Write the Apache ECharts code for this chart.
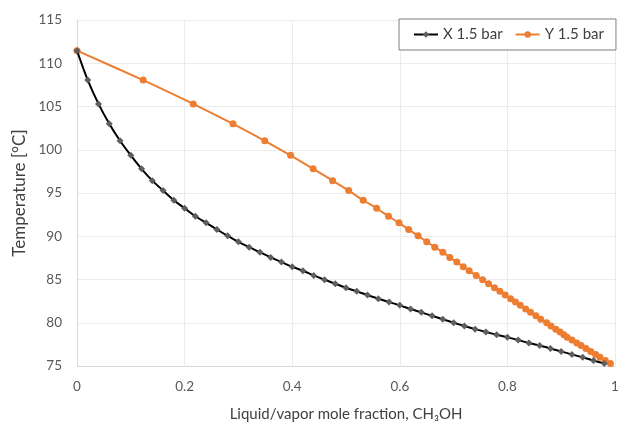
<!DOCTYPE html>
<html>
<head>
<meta charset="utf-8">
<script src="https://cdn.jsdelivr.net/npm/echarts@6/dist/echarts.min.js"></script>
<style>
html,body{margin:0;padding:0;background:#fff;}
#chart{width:627px;height:434px;}
</style>
</head>
<body>
<div id="chart"></div>
<script>
// Liquid mole fraction of CH3OH (X 1.5 bar)
const xLiquid = [0, 0.02, 0.04, 0.06, 0.08, 0.10, 0.12, 0.14, 0.16, 0.18,
  0.20, 0.22, 0.24, 0.26, 0.28, 0.30, 0.32, 0.34, 0.36, 0.38,
  0.40, 0.42, 0.44, 0.46, 0.48, 0.50, 0.52, 0.54, 0.56, 0.58,
  0.60, 0.62, 0.64, 0.66, 0.68, 0.70, 0.72, 0.74, 0.76, 0.78,
  0.80, 0.82, 0.84, 0.86, 0.88, 0.90, 0.92, 0.94, 0.96, 0.98];
// Temperature [°C] at each point (shared by liquid and vapour curves)
const temperature = [111.45, 108.05, 105.3, 103.0, 101.04, 99.35, 97.8, 96.43, 95.28, 94.16,
  93.24, 92.31, 91.55, 90.78, 90.05, 89.36, 88.74, 88.16, 87.55, 87.01,
  86.47, 86.01, 85.47, 84.97, 84.51, 84.05, 83.63, 83.2, 82.78, 82.4,
  82.01, 81.59, 81.2, 80.8, 80.4, 80.0, 79.62, 79.26, 78.93, 78.62,
  78.32, 78.0, 77.66, 77.36, 77.02, 76.67, 76.33, 76.02, 75.63, 75.29];
// Vapour mole fraction of CH3OH (Y 1.5 bar)
const yVapor = [0, 0.123, 0.216, 0.290, 0.349, 0.397, 0.439, 0.475, 0.505, 0.532,
  0.557, 0.579, 0.5985, 0.6165, 0.634, 0.650, 0.665, 0.680, 0.693, 0.706,
  0.718, 0.729, 0.742, 0.754, 0.765, 0.776, 0.786, 0.796, 0.806, 0.815,
  0.824, 0.834, 0.843, 0.853, 0.862, 0.873, 0.881, 0.890, 0.898, 0.905,
  0.911, 0.920, 0.929, 0.937, 0.946, 0.955, 0.964, 0.972, 0.982, 0.9915];
const seriesNames = ['X 1.5 bar', 'Y 1.5 bar'];
const xTicks = [0, 0.2, 0.4, 0.6, 0.8, 1];

const chart = echarts.init(document.getElementById('chart'), null, {renderer: 'canvas'});
const font = 'Lato, "Open Sans", sans-serif';
chart.setOption({
  animation: false,
  backgroundColor: '#fff',
  textStyle: {fontFamily: font},
  grid: {left: 77, right: 12, top: 20, bottom: 68},
  legend: {
    data: seriesNames,
    left: 399, top: 19,
    padding: [8, 12, 8, 14],
    itemWidth: 24, itemHeight: 8, itemGap: 12,
    borderColor: '#7f7f7f', borderWidth: 1, backgroundColor: '#fff',
    textStyle: {fontSize: 15, color: '#404040', fontFamily: font}
  },
  xAxis: {
    type: 'value', min: 0, max: 1, interval: 0.2,
    name: 'Liquid/vapor mole fraction, CH\u2083OH',
    nameLocation: 'middle', nameGap: 41,
    nameTextStyle: {fontSize: 15, color: '#404040', fontFamily: font},
    axisLine: {show: true, lineStyle: {color: '#d9d9d9', width: 1}},
    axisTick: {show: false},
    axisLabel: {color: '#595959', fontSize: 13.5, margin: 14,
      formatter: v => { const t = xTicks.find(k => Math.abs(k - v) < 1e-9); return t === undefined ? '' : String(t); }},
    splitLine: {show: true, lineStyle: {color: '#ebebeb', width: 1}}
  },
  yAxis: {
    type: 'value', min: 75, max: 115, interval: 5,
    name: 'Temperature [\u00B0C]',
    nameLocation: 'middle', nameGap: 44, nameRotate: 90,
    nameTextStyle: {fontSize: 17, color: '#404040', fontFamily: font},
    axisLine: {show: true, lineStyle: {color: '#d9d9d9', width: 1}},
    axisTick: {show: false},
    axisLabel: {color: '#595959', fontSize: 13.5, margin: 15},
    splitLine: {show: true, lineStyle: {color: '#ebebeb', width: 1}}
  },
  series: [
    {
      name: seriesNames[0], type: 'line', smooth: 0.3,
      data: xLiquid.map((x, i) => [x, temperature[i]]),
      symbol: 'diamond', symbolSize: 7, showSymbol: true,
      lineStyle: {color: '#000', width: 2},
      itemStyle: {color: '#5e5e5e', borderWidth: 0},
      color: '#5e5e5e', z: 3
    },
    {
      name: seriesNames[1], type: 'line', smooth: 0.2,
      data: yVapor.map((y, i) => [y, temperature[i]]),
      symbol: 'circle', symbolSize: 7, showSymbol: true,
      lineStyle: {color: '#ED7D31', width: 2},
      itemStyle: {color: '#ED7D31', borderWidth: 0},
      color: '#ED7D31', z: 2
    }
  ]
});
</script>
</body>
</html>
